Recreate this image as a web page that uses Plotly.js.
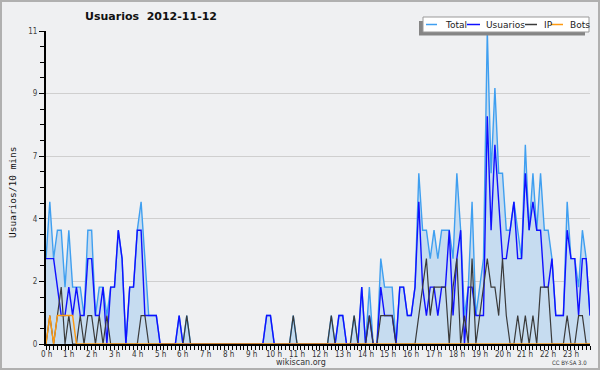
<!DOCTYPE html>
<html>
<head>
<meta charset="utf-8">
<script src="https://cdn.plot.ly/plotly-3.0.1.min.js"></script>
<style>html,body{margin:0;padding:0;background:#eff0f2;}#chart{width:600px;height:370px;}</style>
</head>
<body>
<div id="chart"></div>
<script>
// 10-minute slots, one row per hour (6 values each)
const usuarios = [
  3,3,3,2,1,1,  2,1,2,1,1,3,  3,1,1,2,0,2,  2,4,3,0,2,2,
  4,4,1,1,1,1,  0,0,0,0,0,1,  0,0,0,0,0,0,  0,0,0,0,0,0,
  0,0,0,0,0,0,  0,0,0,0,1,1,  0,0,0,0,0,0,  0,0,0,0,0,0,
  0,0,0,0,0,1,  1,0,0,0,0,2,  0,1,0,0,2,1,  1,1,0,2,2,1,
  1,2,5,2,1,2,  2,1,2,2,4,1,  3,4,0,2,2,1,  1,1,8,4,7,5,
  3,3,4,5,3,3,  6,4,5,4,4,2,  2,3,1,1,1,4,  3,3,1,3,3,1
];
const ip = [
  0,1,0,1,2,0,  1,0,0,1,0,1,  1,0,1,0,1,0,  0,0,0,0,0,0,
  0,1,1,0,0,0,  0,0,0,0,0,0,  0,1,0,0,0,0,  0,0,0,0,0,0,
  0,0,0,0,0,0,  0,0,0,0,0,0,  0,0,0,0,0,1,  0,0,0,0,0,0,
  0,0,0,1,0,0,  0,0,0,1,0,0,  0,1,0,0,1,1,  1,1,0,0,0,0,
  0,0,1,2,3,1,  2,2,2,2,0,2,  3,0,1,0,3,0,  1,2,3,2,2,1,
  3,1,0,0,1,0,  1,0,1,0,2,2,  2,0,0,0,0,1,  0,0,1,1,0,0
];
const bots = [
  0,1,0,1,1,1,  1,1,0,0,0,0,  0,0,0,0,0,0,  0,0,0,0,0,0,
  0,0,0,0,0,0,  0,0,0,0,0,0,  0,0,0,0,0,0,  0,0,0,0,0,0,
  0,0,0,0,0,0,  0,0,0,0,0,0,  0,0,0,0,0,0,  0,0,0,0,0,0,
  0,0,0,0,0,0,  0,0,0,0,0,0,  0,0,0,0,0,0,  0,0,0,0,0,0,
  0,0,0,0,0,0,  0,0,0,0,0,0,  0,0,0,0,0,0,  0,0,0,0,0,0,
  0,0,0,0,0,0,  0,0,0,0,0,0,  0,0,0,0,0,0,  0,0,0,0,0,0
];
const total = [
  3,5,3,4,4,2,  4,2,2,2,1,4,  4,1,2,2,1,2,  2,4,3,0,2,2,
  4,5,3,1,1,1,  0,0,0,0,0,1,  0,1,0,0,0,0,  0,0,0,0,0,0,
  0,0,0,0,0,0,  0,0,0,0,1,1,  0,0,0,0,0,1,  0,0,0,0,0,0,
  0,0,0,1,0,1,  1,0,0,1,0,2,  0,2,0,0,3,2,  2,2,0,2,2,1,
  1,2,6,4,4,3,  4,3,4,4,4,3,  6,4,1,2,5,1,  2,3,11,6,9,6,
  6,4,4,5,4,3,  7,4,6,4,6,4,  4,3,1,1,1,5,  3,3,2,4,3,1
];
const hourLabels = ["0 h","1 h","2 h","3 h","4 h","5 h","6 h","7 h","8 h","9 h","10 h","11 h",
  "12 h","13 h","14 h","15 h","16 h","17 h","18 h","19 h","20 h","21 h","22 h","23 h"];
const yTickVals = [0, 2.2, 4.4, 6.6, 8.8, 11];
const yTickText = ["0","2","4","7","9","11"];
const seriesNames = ["Total","Usuarios","IP","Bots"];

const slots = total.map((_, i) => i);
const hourVals = hourLabels.map((_, h) => h * 6);

const C = {total:'#3f9ff0', fill:'#c6dcf0', usu:'#1010ff', ip:'#3a3a3a', bots:'#ff9a10'};

const traces = [
  {x: slots, y: total, type:'scatter', mode:'lines', fill:'tozeroy', fillcolor:C.fill,
   line:{color:C.total, width:1.4}, name:seriesNames[0]},
  {x: slots, y: usuarios, type:'scatter', mode:'lines', line:{color:C.usu, width:1.4}, name:seriesNames[1]},
  {x: slots, y: ip, type:'scatter', mode:'lines', line:{color:C.ip, width:1.2}, name:seriesNames[2]},
  {x: slots, y: bots, type:'scatter', mode:'lines', line:{color:C.bots, width:1.4}, name:seriesNames[3]}
];

// pixel -> paper helpers (plot area: x 46..590, y 31..344)
const L = 46, R = 10, T = 31, B = 26, W = 600, H = 370;
const pw = W - L - R, ph = H - T - B;
const px = v => (v - L) / pw;
const py = v => (H - B - v) / ph;

const shapes = [
  {type:'rect', xref:'paper', yref:'paper', x0:px(1), x1:px(599), y0:py(369), y1:py(1),
   line:{color:'#b0b0b0', width:2}, fillcolor:'rgba(0,0,0,0)', layer:'below'},
  // legend shadow + box
  {type:'rect', xref:'paper', yref:'paper', x0:px(419), x1:px(585), y0:py(35.5), y1:py(21),
   line:{width:0}, fillcolor:'#858585'},
  {type:'rect', xref:'paper', yref:'paper', x0:px(423), x1:px(589), y0:py(32), y1:py(17),
   line:{color:'#999999', width:1}, fillcolor:'#ffffff'}
];
const legendLines = [[426,437,C.total],[467,480,C.usu],[525,537,C.ip],[551,563,C.bots]];
legendLines.forEach(l => shapes.push({type:'line', xref:'paper', yref:'paper',
  x0:px(l[0]), x1:px(l[1]), y0:py(24.5), y1:py(24.5), line:{color:l[2], width:1.5}}));

const legendTextX = [443, 484, 542, 567.5];
const annotations = seriesNames.map((n, k) => ({
  xref:'paper', yref:'paper', x:px(legendTextX[k]), y:py(24.5), xanchor:'left', yanchor:'middle',
  text:n, showarrow:false, font:{family:'DejaVu Sans', size:9, color:'#222'}
}));
// hour labels under the axis, placed on the x scale
hourLabels.forEach((t, h) => annotations.push({
  xref:'x', yref:'paper', x:hourVals[h], y:py(348), xanchor:'center', yanchor:'top',
  text:t, showarrow:false, font:{family:'DejaVu Sans Condensed, DejaVu Sans', size:8, color:'#333'}
}));
annotations.push(
  {xref:'paper', yref:'paper', x:px(12), y:py(192), xanchor:'center', yanchor:'middle', textangle:-90,
   text:'Usuarios/10 mins', showarrow:false, font:{family:'DejaVu Sans Mono', size:9.5, color:'#111'}},
  {xref:'paper', yref:'paper', x:px(300.5), y:py(362.5), xanchor:'center', yanchor:'middle',
   text:'wikiscan.org', showarrow:false, font:{family:'DejaVu Sans', size:8, color:'#333'}},
  {xref:'paper', yref:'paper', x:px(589), y:py(362.5), xanchor:'right', yanchor:'middle',
   text:'CC BY-SA 3.0', showarrow:false, font:{family:'DejaVu Sans Condensed, DejaVu Sans', size:6, color:'#333'}}
);

const layout = {
  width: W, height: H,
  margin:{l:L, r:R, t:T, b:B, pad:0},
  paper_bgcolor:'#eff0f2', plot_bgcolor:'#eff0f2',
  showlegend:false,
  title:{text:'<b>Usuarios  2012-11-12</b>', x:151/W, xref:'container', xanchor:'center',
         y:1 - 16/H, yref:'container', yanchor:'middle',
         font:{family:'DejaVu Sans', size:11, color:'#111'}},
  xaxis:{range:[0,143], tickmode:'array', tickvals:hourVals, showticklabels:false,
         ticks:'outside', ticklen:4, tickwidth:1, tickcolor:'#000',
         minor:{dtick:1, tick0:0, ticks:'outside', ticklen:4, tickwidth:1, tickcolor:'#000', showgrid:false},
         showline:true, linecolor:'#000', linewidth:2, showgrid:false, zeroline:false, fixedrange:true},
  yaxis:{range:[0,11], tickmode:'array', tickvals:yTickVals, ticktext:yTickText,
         ticks:'outside', ticklen:5, tickwidth:1, tickcolor:'#000',
         minor:{dtick:0.55, tick0:0, ticks:'outside', ticklen:4, tickwidth:1, tickcolor:'#000', showgrid:false},
         showline:true, linecolor:'#000', linewidth:2, showgrid:true, gridcolor:'#cfcfcf', gridwidth:1,
         zeroline:false, tickfont:{family:'DejaVu Sans Condensed, DejaVu Sans', size:8, color:'#444'}, fixedrange:true},
  shapes: shapes,
  annotations: annotations
};

Plotly.newPlot('chart', traces, layout, {staticPlot:true, displayModeBar:false});
</script>
</body>
</html>
